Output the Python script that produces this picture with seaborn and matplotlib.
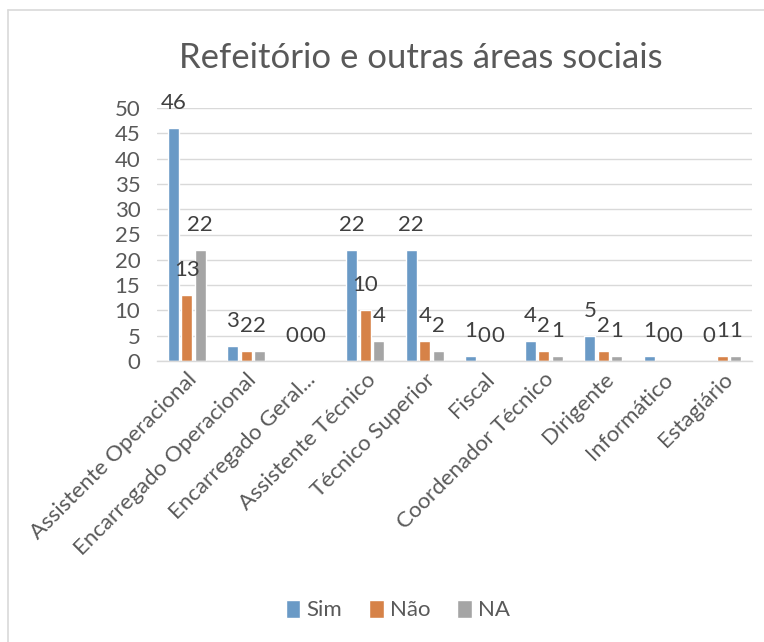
import matplotlib
matplotlib.use("Agg")
import matplotlib.pyplot as plt
import seaborn as sns
import pandas as pd
from matplotlib.lines import Line2D

categories = ["Assistente Operacional", "Encarregado Operacional", "Encarregado Geral...",
              "Assistente Técnico", "Técnico Superior", "Fiscal", "Coordenador Técnico",
              "Dirigente", "Informático", "Estagiário"]
sim = [46, 3, 0, 22, 22, 1, 4, 5, 1, 0]
nao = [13, 2, 0, 10, 4, 0, 2, 2, 0, 1]
na = [22, 2, 0, 4, 2, 0, 1, 1, 0, 1]
series = ["Sim", "Não", "NA"]
colors = ["#5B9BD5", "#ED7D31", "#A5A5A5"]
title = "Refeitório e outras áreas sociais"

rows = []
for s, vals in zip(series, [sim, nao, na]):
    for c, v in zip(categories, vals):
        rows.append({"cat": c, "serie": s, "valor": v})
df = pd.DataFrame(rows)

sns.set_theme(style="white")
plt.rcParams['font.family'] = ['Lato', 'DejaVu Sans']

fig = plt.figure(figsize=(7.64, 6.42), dpi=100)
ax = fig.add_axes([157/764, 1-361/642, (752-157)/764, (361-108)/642])

sns.barplot(data=df, x="cat", y="valor", hue="serie", palette=colors,
            width=0.68, gap=0.2, ax=ax, legend=True, order=categories,
            hue_order=series)

ax.set_ylim(0, 50)
ax.set_yticks(range(0, 51, 5))
ax.set_xlim(-0.5, len(categories)-0.5)
ax.yaxis.grid(True, color="#D9D9D9", linewidth=1)
ax.set_axisbelow(True)
for sp in ["left", "right", "top"]:
    ax.spines[sp].set_visible(False)
ax.spines["bottom"].set_color("#D9D9D9")
ax.spines["bottom"].set_linewidth(1)
ax.set_xlabel("")
ax.set_ylabel("")
ax.tick_params(axis="both", length=0, colors="#595959", labelsize=16)
ax.tick_params(axis="y", pad=12)
ax.tick_params(axis="x", pad=6)
plt.setp(ax.get_xticklabels(), rotation=45, ha="right", rotation_mode="anchor")

for cont in ax.containers:
    for bar in cont:
        h = bar.get_height()
        ax.annotate(f"{int(h)}", (bar.get_x() + bar.get_width()/2, h),
                    xytext=(0, 18), textcoords="offset points",
                    ha="center", va="center", fontsize=16, color="#404040")

handles, labels = ax.get_legend_handles_labels()
ax.legend_.remove()
fig.legend(handles, labels, loc="center", bbox_to_anchor=(398/764, 1-610/642), ncol=3,
           frameon=False, fontsize=16, handlelength=0.65, handleheight=0.9,
           handletextpad=0.3, columnspacing=1.2, labelcolor="#595959")

fig.text(421/764, 1-58/642, title, ha="center", va="center", fontsize=25, color="#595959")

fig.lines.append(Line2D([8/764, 1.0], [1-10/642, 1-10/642], transform=fig.transFigure,
                        color="#D9D9D9", linewidth=1.2))
fig.lines.append(Line2D([8/764, 8/764], [0.0, 1-10/642], transform=fig.transFigure,
                        color="#D9D9D9", linewidth=1.2))

fig.savefig("out.png", dpi=100)
